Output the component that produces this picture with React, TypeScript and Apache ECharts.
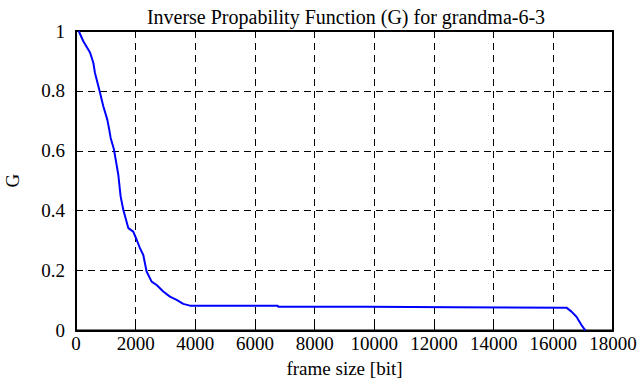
import React, { useEffect, useRef } from "react";
import * as echarts from "echarts";

const frameSizes = [
  90, 250, 470, 580, 636, 781, 915, 1049, 1116, 1162, 1273, 1418, 1497, 1585,
  1753, 1920, 2033, 2144, 2255, 2367, 2535, 2703, 2925, 3149, 3372, 3595, 3819,
  6770, 6770, 9750, 9750, 12700, 12700, 16440, 16610, 16776, 16943, 17077,
];
const gValues = [
  1.0, 0.965, 0.928, 0.894, 0.86, 0.804, 0.749, 0.704, 0.67, 0.643, 0.604, 0.52,
  0.447, 0.403, 0.342, 0.33, 0.303, 0.275, 0.252, 0.197, 0.163, 0.152, 0.13,
  0.113, 0.102, 0.089, 0.083, 0.083, 0.0796, 0.0796, 0.0776, 0.0776, 0.0763,
  0.0763, 0.063, 0.046, 0.018, 0.0,
];
const xTicks = [0, 2000, 4000, 6000, 8000, 10000, 12000, 14000, 16000, 18000];
const yTicks = [0, 0.2, 0.4, 0.6, 0.8, 1];

const titleText = "Inverse Propability Function (G) for grandma-6-3";
const xName = "frame size [bit]";
const yName = "G";

const FONT = "Liberation Serif";

const labelStyle = (size: number) => ({
  fontFamily: FONT,
  fontSize: size,
  fontWeight: "normal",
  fontStyle: "normal",
  color: "#000",
});

export default function App() {
  const ref = useRef<HTMLDivElement>(null);
  useEffect(() => {
    if (!ref.current) return;
    const chart = echarts.init(ref.current, null, { renderer: "svg" });
    const data = frameSizes.map((x, i) => [x, gValues[i]]);
    const gridLine = {
      show: true,
      lineStyle: { color: "#000", width: 1, type: [7, 5] as any },
    };
    chart.setOption({
      animation: false,
      backgroundColor: "#fff",
      textStyle: labelStyle(19),
      title: {
        text: titleText,
        left: 341,
        textAlign: "center",
        top: 2,
        textStyle: labelStyle(20),
      },
      grid: {
        left: 76,
        right: 26,
        top: 31,
        bottom: 56.5,
        show: true,
        borderColor: "#000",
        borderWidth: 2,
        backgroundColor: "transparent",
        containLabel: false,
        outerBoundsMode: "none",
      },
      xAxis: {
        type: "value",
        min: xTicks[0],
        max: xTicks[xTicks.length - 1],
        interval: 2000,
        name: xName,
        nameLocation: "middle",
        nameGap: 28,
        nameTextStyle: labelStyle(19),
        axisLine: { show: true, lineStyle: { color: "#000", width: 2 } },
        axisTick: { show: true, inside: true, length: 5, lineStyle: { color: "#000", width: 1 } },
        axisLabel: {
          ...labelStyle(19),
          margin: 3,
          formatter: (v: number) => "{t|" + String(v) + "}",
          rich: { t: labelStyle(19) },
        },
        splitLine: gridLine,
      },
      yAxis: {
        type: "value",
        min: yTicks[0],
        max: yTicks[yTicks.length - 1],
        interval: 0.2,
        name: yName,
        nameLocation: "middle",
        nameGap: 54,
        nameRotate: 90,
        nameTextStyle: labelStyle(19),
        axisLine: { show: true, lineStyle: { color: "#000", width: 2 } },
        axisTick: { show: true, inside: true, length: 5, lineStyle: { color: "#000", width: 1 } },
        axisLabel: {
          ...labelStyle(19),
          margin: 11,
          formatter: (v: number) => "{t|" + String(Math.round(v * 10) / 10) + "}",
          rich: { t: labelStyle(19) },
        },
        splitLine: gridLine,
      },
      series: [
        {
          type: "line",
          data,
          showSymbol: false,
          symbol: "none",
          lineStyle: { color: "#0000ff", width: 2 },
          clip: true,
        },
      ],
    });
    return () => chart.dispose();
  }, []);
  return <div ref={ref} style={{ width: 639, height: 387, position: "absolute", left: 0, top: 0 }} />;
}
